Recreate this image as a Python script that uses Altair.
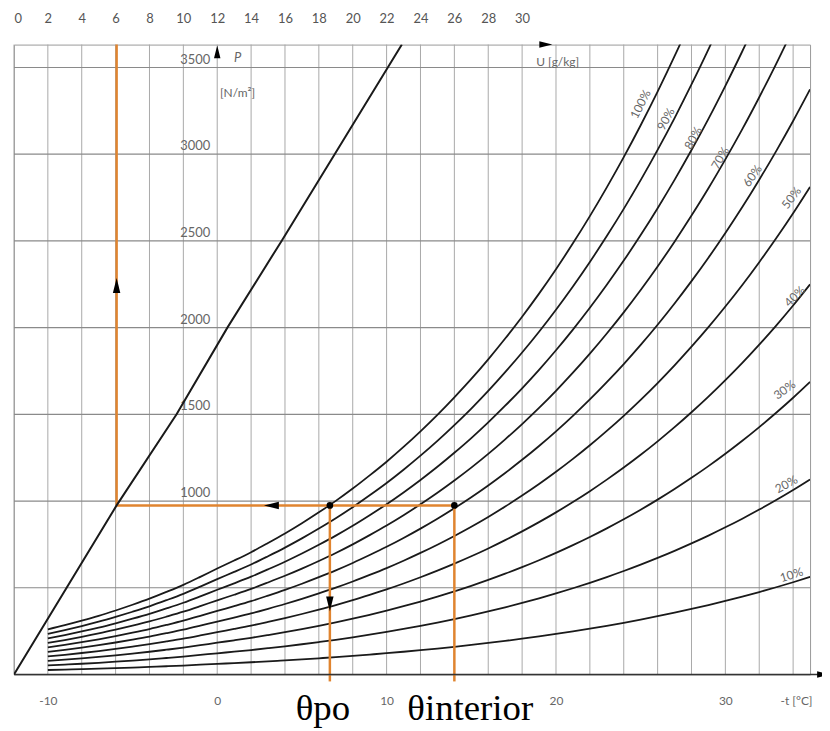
import altair as alt
import pandas as pd

# ---------------- data ----------------
temps = list(range(-10, 36))                      # °C
psat = [260, 284, 310, 338, 369, 402, 437, 476, 517, 563,
        611, 657, 705, 758, 813, 872, 935, 1001, 1072, 1148,
        1227, 1312, 1402, 1497, 1598, 1704, 1817, 1937, 2063, 2196,
        2337, 2486, 2643, 2809, 2983, 3167, 3361, 3565, 3780, 4005,
        4243, 4492, 4755, 5030, 5319, 5623]        # saturation pressure, N/m2
rh_levels = [10, 20, 30, 40, 50, 60, 70, 80, 90, 100]

grid_t = list(range(-12, 35, 2))
grid_p = [500, 1000, 1500, 2000, 2500, 3000, 3500]
p_labels = [1000, 1500, 2000, 2500, 3000, 3500]
t_labels = [-10, 0, 10, 20, 30]
u_labels = list(range(0, 31, 2))

u_line_u = [0, 6.06, 9.6, 12.6, 15.8, 22.9]        # g/kg
u_line_p = [0, 975, 1500, 2000, 2500, 3632]

rh_label_text = ["10%", "20%", "30%", "40%", "50%", "60%", "70%", "80%", "90%", "100%"]
rh_label_t = [33.9, 33.6, 33.5, 34.1, 33.9, 31.6, 29.7, 28.1, 26.5, 25.0]
rh_label_p = [574, 1096, 1641, 2180, 2748, 2875, 2978, 3093, 3202, 3288]
rh_label_angle = [343, 331, 324, 315, 307, 305, 300, 298, 298, 297]

theta_po = 6.65
theta_int = 14.0
p_proc = 975
t_corner = -5.94      # U = 6 g/kg
p_top = 3632

T_DOM = [-12, 35]
U_DOM = [0, 47]
P_DOM = [0, p_top]

ORANGE = "#E0842F"
GRAY_TXT = "#666666"
FONT = "Lato"

# ---------------- tables ----------------
curves = pd.DataFrame(
    [{"t": t, "rh": rh, "p": rh / 100.0 * ps} for rh in rh_levels for t, ps in zip(temps, psat)]
)
ulinedf = pd.DataFrame({"u": u_line_u, "p": u_line_p})
gt = pd.DataFrame({"t": grid_t})
gp = pd.DataFrame({"p": grid_p})
plab = pd.DataFrame({"t": [0] * len(p_labels), "p": p_labels, "txt": [str(v) for v in p_labels]})
rhlab = pd.DataFrame({"t": rh_label_t, "p": rh_label_p, "txt": rh_label_text, "ang": rh_label_angle})
segs = pd.DataFrame({
    "t": [theta_int, t_corner, t_corner, theta_po],
    "t2": [theta_int, theta_int, t_corner, theta_po],
    "p": [-40, p_proc, p_proc, p_proc],
    "p2": [p_proc, p_proc, p_top, -40],
})
dots = pd.DataFrame({"t": [theta_po, theta_int], "p": [p_proc, p_proc]})

xs = alt.Scale(domain=T_DOM, nice=False, zero=False)
us = alt.Scale(domain=U_DOM, nice=False, zero=False)
ys = alt.Scale(domain=P_DOM, nice=False, zero=False)

x_axis = alt.Axis(values=t_labels, domain=False, ticks=False, grid=False, title=None,
                  labelExpr="'' + datum.value", labelColor=GRAY_TXT, labelFont=FONT,
                  labelFontSize=12, labelPadding=21)
u_axis = alt.Axis(orient="top", values=u_labels, domain=False, ticks=False, grid=False, title=None,
                  labelExpr="'' + datum.value", labelColor="#555555", labelFont=FONT,
                  labelFontSize=13, labelPadding=19)


def X(field="t"):
    return alt.X(f"{field}:Q", scale=xs, axis=x_axis)


def Y(field="p"):
    return alt.Y(f"{field}:Q", scale=ys, axis=None)


def arrow(path, t, p, size, group="t"):
    df = pd.DataFrame({group: [t], "p": [p]})
    xenc = X() if group == "t" else alt.X("u:Q", scale=us, axis=u_axis)
    return alt.Chart(df).mark_point(shape=path, filled=True, color="black", opacity=1,
                                    size=size, strokeWidth=0).encode(x=xenc, y=Y())


UP = "M -0.5 1 L 0 -1 L 0.5 1 Z"
DOWN = "M -0.5 -1 L 0 1 L 0.5 -1 Z"
LEFT = "M 1 -0.5 L -1 0 L 1 0.5 Z"
RIGHT = "M -1 -0.5 L 1 0 L -1 0.5 Z"

vgrid = alt.Chart(gt).mark_rule(color="#a8a8a8", strokeWidth=1).encode(x=X())
hgrid = alt.Chart(gp).mark_rule(color="#8a8a8a", strokeWidth=1.2).encode(y=Y())

lines = alt.Chart(curves).mark_line(color="#1a1a1a", strokeWidth=1.8, clip=True,
                                    interpolate="monotone").encode(x=X(), y=Y(), detail="rh:N")

baseline = alt.Chart(pd.DataFrame({"t": [T_DOM[0]], "t2": [35.5], "p": [0]})).mark_rule(
    color="#333333", strokeWidth=1.5).encode(x=X(), x2="t2:Q", y=Y())

orange = alt.Chart(segs).mark_rule(color=ORANGE, strokeWidth=2.5).encode(
    x=X(), x2="t2:Q", y=Y(), y2="p2:Q")

dotm = alt.Chart(dots).mark_circle(color="black", size=45, opacity=1).encode(x=X(), y=Y())

p_text = alt.Chart(plab).mark_text(align="right", baseline="bottom", dx=-7, dy=-1,
                                   font=FONT, fontSize=13, color=GRAY_TXT).encode(
    x=X(), y=Y(), text="txt:N")

rh_text = alt.Chart(rhlab).mark_text(font=FONT, fontSize=12, color=GRAY_TXT).encode(
    x=X(), y=Y(), text="txt:N", angle=alt.Angle("ang:Q", scale=None))

ann_norm = pd.DataFrame({"t": [1.2, 34.2], "p": [3351, -155], "txt": ["[N/m²]", "-t [°C]"]})
ann_ital = pd.DataFrame({"t": [1.2], "p": [3552], "txt": ["P"]})
ann_text = alt.Chart(ann_norm).mark_text(font=FONT, fontSize=12, color=GRAY_TXT).encode(
    x=X(), y=Y(), text="txt:N")
ann_text_i = alt.Chart(ann_ital).mark_text(font=FONT, fontSize=13, fontStyle="italic",
                                           color=GRAY_TXT).encode(x=X(), y=Y(), text="txt:N")

theta = pd.DataFrame({"t": [6.24, 14.94], "p": [-264, -264], "txt": ["θpo", "θinterior"]})
theta_text = alt.Chart(theta).mark_text(font="Liberation Serif", fontSize=37, color="black",
                                        baseline="alphabetic").encode(x=X(), y=Y(), text="txt:N")

t_group = alt.layer(
    vgrid, hgrid, lines, orange, baseline, dotm,
    arrow(UP, t_corner, 2243, 225),
    arrow(LEFT, 3.2, p_proc, 225),
    arrow(DOWN, theta_po, 407, 225),
    arrow(UP, 0, 3590, 170),
    arrow(RIGHT, 35.8, 0, 170),
    p_text, rh_text, ann_text, ann_text_i, theta_text,
)

u_line = alt.Chart(ulinedf).mark_line(color="#1a1a1a", strokeWidth=2, clip=True).encode(
    x=alt.X("u:Q", scale=us, axis=u_axis), y=Y())
u_txt = alt.Chart(pd.DataFrame({"u": [32.1], "p": [3534], "txt": ["U [g/kg]"]})).mark_text(
    font=FONT, fontSize=12, color=GRAY_TXT).encode(
    x=alt.X("u:Q", scale=us, axis=u_axis), y=Y(), text="txt:N")

u_group = alt.layer(u_line, u_txt, arrow(RIGHT, 31.4, p_top, 170, group="u"))

chart = alt.layer(t_group, u_group).resolve_scale(x="independent").properties(
    width=800, height=633,
    padding={"left": 6, "top": 35, "right": 12, "bottom": 52},
    autosize=alt.AutoSizeParams(type="none"),
    background="white",
).configure_view(stroke="#999999", strokeWidth=1)

chart.save("out.html", embed_options={"renderer": "svg", "actions": False})
